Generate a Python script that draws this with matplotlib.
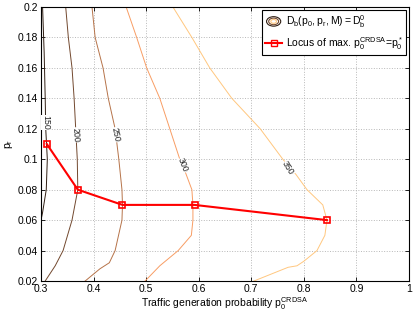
import numpy as np
import matplotlib
matplotlib.use("Agg")
import matplotlib.pyplot as plt
from matplotlib.patches import Ellipse
from matplotlib.legend_handler import HandlerBase
from matplotlib.lines import Line2D

plt.rcParams['font.family'] = ['Liberation Sans', 'DejaVu Sans']
plt.rcParams['mathtext.default'] = 'regular'

# ------------------------------
# Daten: Konturlinien D_b = D_b^0
# ------------------------------
levels = [150, 200, 250, 300, 350]

c150_x = [0.303, 0.306, 0.308, 0.309, 0.312, 0.310, 0.303, 0.300]
c150_y = [0.200, 0.170, 0.140, 0.120, 0.100, 0.080, 0.065, 0.060]

c200_x = [0.347, 0.352, 0.359, 0.363, 0.366, 0.369, 0.370, 0.359, 0.342, 0.327, 0.308]
c200_y = [0.200, 0.180, 0.160, 0.140, 0.120, 0.100, 0.080, 0.060, 0.040, 0.030, 0.020]

c250_x = [0.397, 0.403, 0.418, 0.428, 0.441, 0.448, 0.454, 0.455, 0.454, 0.441, 0.430, 0.412, 0.384]
c250_y = [0.200, 0.180, 0.160, 0.140, 0.120, 0.100, 0.080, 0.070, 0.060, 0.040, 0.032, 0.028, 0.020]

c300_x = [0.462, 0.482, 0.501, 0.526, 0.545, 0.564, 0.574, 0.587, 0.589, 0.589, 0.586, 0.561, 0.526, 0.498]
c300_y = [0.200, 0.180, 0.160, 0.140, 0.120, 0.100, 0.092, 0.080, 0.070, 0.060, 0.050, 0.040, 0.030, 0.020]

c350_x = [0.551, 0.587, 0.621, 0.663, 0.717, 0.760, 0.785, 0.806, 0.836, 0.844, 0.840, 0.825, 0.800, 0.787, 0.770, 0.705]
c350_y = [0.200, 0.180, 0.160, 0.140, 0.120, 0.100, 0.090, 0.080, 0.070, 0.060, 0.050, 0.040, 0.033, 0.030, 0.029, 0.020]

contours_x = [c150_x, c200_x, c250_x, c300_x, c350_x]
contours_y = [c150_y, c200_y, c250_y, c300_y, c350_y]

# Beschriftungen der Konturen (Position, Winkel)
label_x = [0.309, 0.365, 0.441, 0.570, 0.770]
label_y = [0.124, 0.116, 0.116, 0.096, 0.094]
label_rot = [-90, -86, -78, -68, -58]

# Lokus des Maximums
locus_p0 = [0.311, 0.370, 0.455, 0.592, 0.844]
locus_pr = [0.110, 0.080, 0.070, 0.070, 0.060]

cmap = plt.get_cmap('copper')
colors = [cmap(v) for v in np.linspace(0.15, 1.0, len(levels))]


class ContourHandler(HandlerBase):
    def create_artists(self, legend, orig_handle, xdescent, ydescent,
                       width, height, fontsize, trans):
        cx = width / 2 - xdescent
        cy = height / 2 - ydescent
        arts = []
        for k, c in enumerate([colors[0], colors[1], colors[4]]):
            s = 1.0 - 0.3 * k
            e = Ellipse((cx, cy), width * 0.8 * s, height * 1.3 * s,
                        fill=False, edgecolor=c, lw=0.8, transform=trans)
            arts.append(e)
        return arts


fig = plt.figure(figsize=(4.15, 3.13), dpi=100)
ax = fig.add_axes([0.0988, 0.1022, 0.8867, 0.8754])

for xs, ys, c in zip(contours_x, contours_y, colors):
    ax.plot(xs, ys, color=c, lw=0.7, zorder=2)

for lx, ly, rot, lev in zip(label_x, label_y, label_rot, levels):
    ax.text(lx, ly, str(lev), fontsize=6.3, rotation=rot, ha='center', va='center',
            color='#222222', zorder=3,
            bbox=dict(facecolor='white', edgecolor='none', pad=0.2))

ax.plot(locus_p0, locus_pr, color='red', lw=1.5, marker='s', ms=5, zorder=4,
        mfc='none', mec='red', mew=1.2)

ax.set_xlim(0.3, 1.0)
ax.set_ylim(0.02, 0.2)
ax.set_xticks(np.arange(0.3, 1.01, 0.1))
ax.set_xticklabels(['0.3', '0.4', '0.5', '0.6', '0.7', '0.8', '0.9', '1'])
ax.set_yticks(np.arange(0.02, 0.201, 0.02))
ax.set_yticklabels(['0.02', '0.04', '0.06', '0.08', '0.1', '0.12', '0.14',
                    '0.16', '0.18', '0.2'])
ax.tick_params(direction='in', top=True, right=True, labelsize=7.5, length=3, width=0.6, pad=2)
ax.grid(True, linestyle=':', color='#b8b8b8', lw=0.7)
for sp in ax.spines.values():
    sp.set_linewidth(0.8)

ax.set_xlabel(r'Traffic generation probability $p_0^{CRDSA}$', fontsize=7.5, labelpad=1)
ax.set_ylabel(r'$p_r$', fontsize=7.5, labelpad=2)

h_cont = Line2D([], [], color='k')
h_locus = Line2D([], [], color='red', lw=1.5, marker='s', ms=4.5, mfc='none', mec='red')
leg = ax.legend([h_cont, h_locus],
                [r'$D_b(p_0,p_r,M)=D_b^0$', r'Locus of max. $p_0^{CRDSA}$=$p_0^*$'],
                handler_map={h_cont: ContourHandler()},
                loc='upper right', fontsize=7.5, frameon=True, fancybox=False,
                edgecolor='black', framealpha=1, borderaxespad=0.3,
                handlelength=1.7, handletextpad=0.3, borderpad=0.3, labelspacing=0.5)
leg.get_frame().set_linewidth(0.8)

plt.savefig('out.png', dpi=100)
